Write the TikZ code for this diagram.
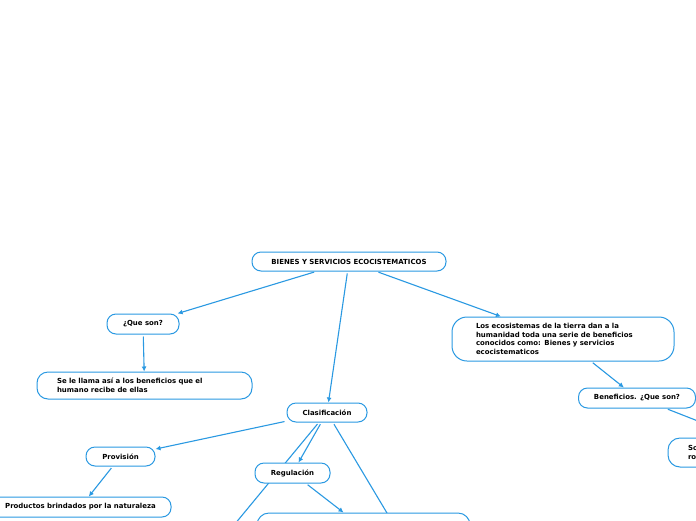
\documentclass[tikz,border=0pt]{standalone}
\usepackage{fontspec}
\newfontfamily\mmfont{DejaVu Sans}
\usetikzlibrary{arrows.meta,backgrounds}
\definecolor{mmblue}{RGB}{42,153,226}
\tikzset{
 box/.style={draw=mmblue, line width=1pt, fill=white, rounded corners=9pt, inner sep=0pt,
   font=\mmfont\bfseries\fontsize{6.95}{8.5}\selectfont, text=black},
 link/.style={draw=mmblue, line width=1.1pt, -{Latex[length=5pt,width=5pt]}, shorten <=2pt},
 plainlink/.style={draw=mmblue, line width=1.1pt, shorten <=2pt}
}
\begin{document}
\begin{tikzpicture}[x=1pt,y=-1pt]
\useasboundingbox (0,0) rectangle (696,520);
\clip (0,0) rectangle (696,520);
\node[box, minimum width=194, minimum height=19] (root) at (349,261.5) {BIENES Y SERVICIOS ECOCISTEMATICOS};
\node[box, minimum width=72, minimum height=20] (queson) at (143,324) {¿Que son?};
\node[box, minimum width=215, minimum height=27, text width=175, align=left, rounded corners=11pt] (sellama) at (144.5,385.5) {Se le llama así a los beneficios que el\\humano recibe de ellas};
\node[box, minimum width=222, minimum height=44, text width=174, align=left, rounded corners=15pt] (ecos) at (563,339) {Los ecosistemas de la tierra dan a la\\humanidad toda una serie de beneficios\\conocidos como: Bienes y servicios\\ecocistematicos};
\node[box, minimum width=117, minimum height=20] (benef) at (637,398) {Beneficios. ¿Que son?};
\node[box, minimum width=144, minimum height=29, text width=104, align=left, rounded corners=12pt] (so) at (740,452.5) {So\\ro};
\node[box, minimum width=80, minimum height=19] (clas) at (327,412.5) {Clasificación};
\node[box, minimum width=69, minimum height=19] (prov) at (120.5,456.5) {Provisión};
\node[box, minimum width=75, minimum height=20] (regu) at (292.5,473) {Regulación};
\node[box, minimum width=181, minimum height=20] (prod) at (80.5,507) {Productos brindados por la naturaleza};
\node[box, minimum width=213, minimum height=30, rounded corners=12pt] (bot) at (363.5,528) {};
\coordinate (c1) at (220,542);
\coordinate (c2) at (404.6,542.5);
\begin{scope}[on background layer]
\fill[white] (0,0) rectangle (696,520);
\clip (0,0) rectangle (696,520);
\draw[link] (root) -- (queson);
\draw[link] (root) -- (clas);
\draw[link] (root) -- (ecos);
\draw[link] (queson) -- (sellama);
\draw[link] (ecos) -- (benef);
\draw[link] ([xshift=29pt]benef.south) -- (so.north);
\draw[link] (clas) -- (prov);
\draw[link] (clas) -- (regu);
\draw[plainlink] (clas) -- (c1);
\draw[plainlink] (clas) -- (c2);
\draw[link] (regu) -- (bot);
\draw[link] (prov) -- (prod);
\end{scope}
\end{tikzpicture}
\end{document}
